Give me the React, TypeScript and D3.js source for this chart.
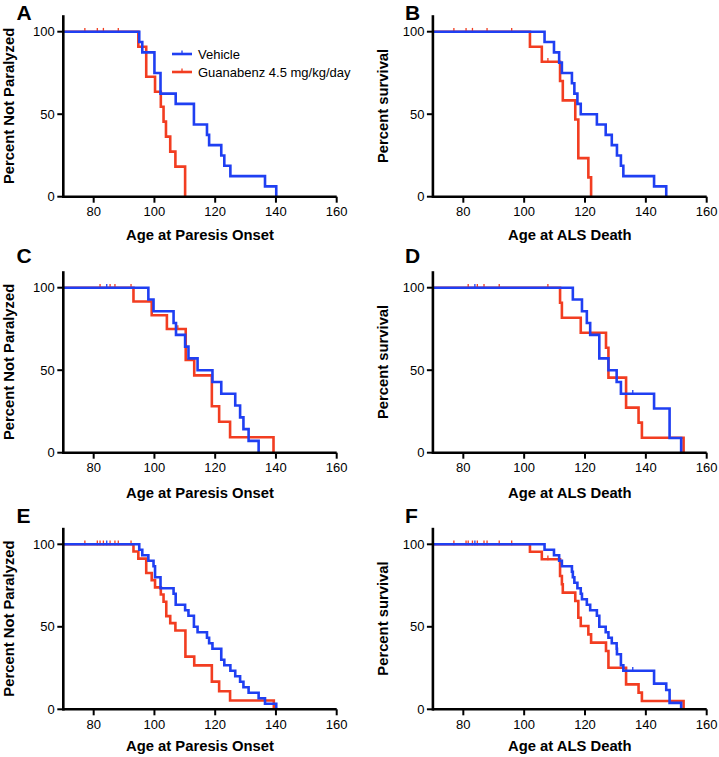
import React from "react";
import * as d3 from "d3";

const W = 719, H = 757;
const BLUE = "#1f3ff2";
const RED = "#f23d21";
const FONT = "'Liberation Sans', Arial, Helvetica, sans-serif";

const xTicks = [80, 100, 120, 140, 160];
const yTicks = [0, 50, 100];
const seriesNames = ["Vehicle", "Guanabenz 4.5 mg/kg/day"];

// A: paresis onset, cohort 1
const aVehT = [95, 96, 100, 102, 107, 113, 117.3, 118, 122, 123, 125, 136.4, 140.1];
const aVehS = [93.75, 87.5, 75, 62.5, 56.25, 43.75, 37.5, 31.25, 25, 18.75, 12.5, 6.25, 0];
const aVehC: number[] = [];
const aGuaT = [94.7, 97.3, 100.2, 102.1, 103, 103.8, 105.2, 106.9, 110.1];
const aGuaS = [90.9, 72.7, 63.6, 54.5, 45.5, 36.4, 27.3, 18.2, 0];
const aGuaC = [77.1, 81.2, 83.2, 88.1];

// B: ALS death, cohort 1
const bVehT = [106.7, 109.8, 111.5, 112.4, 115.7, 116.5, 117.5, 118.6, 123.9, 126.8, 128.8, 130.5, 131.8, 132.6, 142.7, 146.7];
const bVehS = [93.75, 87.5, 81.25, 75, 68.75, 62.5, 56.25, 50, 43.75, 37.5, 31.25, 25, 18.75, 12.5, 6.25, 0];
const bVehC: number[] = [];
const bGuaT = [101.9, 105.8, 111.8, 112.7, 116.8, 117.8, 121.1, 122];
const bGuaS = [90.9, 81.8, 70.1, 58.4, 46.8, 23.4, 11.7, 0];
const bGuaC = [76.9, 80.9, 83, 87.8, 95.9, 107.8];

// C: paresis onset, cohort 2
const cVehT = [98, 99.7, 106.3, 107.1, 110.1, 111.2, 114.2, 119.1, 122, 126.6, 128.2, 129.3, 131, 134.3];
const cVehS = [92.86, 85.71, 78.57, 71.43, 64.29, 57.14, 50, 42.86, 35.71, 28.57, 21.43, 14.29, 7.14, 0];
const cVehC = [84.3];
const cGuaT = [93.1, 99.1, 104.1, 110.3, 113.1, 118.9, 121.3, 124.9, 139.2];
const cGuaS = [91.67, 83.33, 75, 56.25, 46.88, 28.13, 18.75, 9.38, 0];
const cGuaC = [82.1, 85.4, 87, 92.3, 107.7];

// D: ALS death, cohort 2
const dVehT = [116, 119, 120.6, 121.7, 124.7, 127.7, 130.4, 131.8, 142.7, 147.8, 151.6];
const dVehS = [92.86, 85.71, 78.57, 71.43, 57.14, 50, 42.86, 35.71, 26.79, 8.93, 0];
const dVehC = [83.8, 135.7];
const dGuaT = [111.8, 112.4, 118.6, 126.9, 127.7, 133.5, 137.6, 138.7, 152.4];
const dGuaS = [90.9, 81.8, 72.7, 63.6, 45.5, 27.3, 18.2, 9.1, 0];
const dGuaC = [81.6, 84.6, 86.8, 91.8, 107.8];

// E: paresis onset, combined
const eVehT = [95, 96, 98, 99.7, 100.2, 102, 106.3, 107, 110.1, 111.2, 113, 114.2, 117.3, 118, 119.1, 122, 123, 125, 126.6, 128.2, 129.3, 131, 134.3, 136.4, 140.1];
const eVehS = [96.67, 93.33, 90, 86.67, 80, 73.33, 70, 63.33, 60, 56.67, 50, 46.67, 43.33, 40, 36.67, 30, 26.67, 23.33, 20, 16.67, 13.33, 10, 6.67, 3.33, 0];
const eVehC = [84.3];
const eGuaT = [93.1, 94.7, 97.3, 99.1, 100.2, 102.1, 103, 103.9, 105.2, 106.9, 110.2, 113.1, 118.9, 121.3, 124.9, 139.3];
const eGuaS = [95.65, 91.3, 82.6, 78.3, 73.9, 69.6, 65.2, 56.5, 52.2, 47.8, 31.9, 26.6, 16.8, 10.9, 5.3, 0];
const eGuaC = [77.1, 81.2, 82.1, 83.2, 85.4, 87, 88.1, 92.3];

// F: ALS death, combined
const fVehT = [106.7, 109.8, 111.5, 112.4, 115.7, 116, 116.5, 117.5, 118.6, 119, 120.6, 121.7, 123.9, 124.7, 126.8, 127.7, 128.8, 130.4, 130.5, 131.8, 132.6, 142.7, 146.7, 147.8, 151.6];
const fVehS = [96.67, 93.33, 90, 86.67, 83.33, 80, 76.67, 73.33, 70, 66.67, 63.33, 60, 56.67, 50, 46.67, 43.33, 40, 36.67, 33.33, 26.67, 23.33, 15.56, 11.67, 3.89, 0];
const fVehC = [83.8, 135.7];
const fGuaT = [101.9, 105.8, 111.8, 112.4, 112.7, 116.8, 117.8, 118.6, 121.1, 122, 126.9, 127.7, 133.5, 137.6, 138.7, 152.4];
const fGuaS = [95.45, 90.91, 80.8, 75.76, 70.7, 65.6, 55.5, 50.5, 45.4, 40.4, 35.3, 25.2, 15.1, 10.1, 5.0, 0];
const fGuaC = [76.9, 80.9, 81.6, 83, 84.6, 86.8, 87.8, 91.8, 95.9, 107.8];

const onsetTitle = "Age at Paresis Onset";
const deathTitle = "Age at ALS Death";
const onsetY = "Percent Not Paralyzed";
const deathY = "Percent survival";

// layout
const colRange = [[63.3, 336.7], [432.9, 706.7]];
const rowBase = [196.7, 452.7, 709.3];
const rowTitle = [240, 498, 751];
const letterBase = [20, 263, 523];
const letterX = [16.5, 405];
const yTitleX = [13.5, 387.5];

const panels = [
  { id: "A", col: 0, row: 0, xt: onsetTitle, yt: onsetY, veh: [aVehT, aVehS, aVehC], gua: [aGuaT, aGuaS, aGuaC], legend: true },
  { id: "B", col: 1, row: 0, xt: deathTitle, yt: deathY, veh: [bVehT, bVehS, bVehC], gua: [bGuaT, bGuaS, bGuaC] },
  { id: "C", col: 0, row: 1, xt: onsetTitle, yt: onsetY, veh: [cVehT, cVehS, cVehC], gua: [cGuaT, cGuaS, cGuaC] },
  { id: "D", col: 1, row: 1, xt: deathTitle, yt: deathY, veh: [dVehT, dVehS, dVehC], gua: [dGuaT, dGuaS, dGuaC] },
  { id: "E", col: 0, row: 2, xt: onsetTitle, yt: onsetY, veh: [eVehT, eVehS, eVehC], gua: [eGuaT, eGuaS, eGuaC] },
  { id: "F", col: 1, row: 2, xt: deathTitle, yt: deathY, veh: [fVehT, fVehS, fVehC], gua: [fGuaT, fGuaS, fGuaC] },
];

const survAt = (t: number[], s: number[], c: number) => {
  const i = d3.bisectRight(t, c);
  return i === 0 ? 100 : s[i - 1];
};

const Curve = ({ data, x, y, color }: any) => {
  const [t, s, c] = data;
  const pts: [number, number][] = [[70, 100], ...t.map((v: number, i: number) => [v, s[i]] as [number, number])];
  const line = d3
    .line<[number, number]>()
    .x((d) => x(d[0]))
    .y((d) => y(d[1]))
    .curve(d3.curveStepAfter);
  return (
    <g>
      <path d={line(pts) || ""} fill="none" stroke={color} strokeWidth={2.6} strokeLinejoin="miter" />
      {c.map((v: number, i: number) => {
        const yy = y(survAt(t, s, v));
        return <line key={i} x1={x(v)} x2={x(v)} y1={yy - 3.8} y2={yy + 1} stroke={color} strokeWidth={1.3} />;
      })}
    </g>
  );
};

const Panel = ({ p }: any) => {
  const [x0, x1] = colRange[p.col];
  const y0 = rowBase[p.row];
  const x = d3.scaleLinear().domain([70, 160]).range([x0, x1]);
  const y = d3.scaleLinear().domain([0, 110]).range([y0, y0 - 181.5]);
  const yMid = (y(0) + y(110)) / 2;
  return (
    <g>
      <Curve data={p.gua} x={x} y={y} color={RED} />
      <Curve data={p.veh} x={x} y={y} color={BLUE} />
      <line x1={x(70)} x2={x(160)} y1={y(0)} y2={y(0)} stroke="#000" strokeWidth={2.6} />
      <line x1={x(70)} x2={x(70)} y1={y(0) + 1.3} y2={y(110)} stroke="#000" strokeWidth={2.6} />
      {xTicks.map((v) => (
        <g key={v}>
          <line x1={x(v)} x2={x(v)} y1={y(0)} y2={y(0) + 6} stroke="#000" strokeWidth={2} />
          <text x={x(v)} y={y(0) + 19.5} textAnchor="middle" fontSize={13}>{v}</text>
        </g>
      ))}
      {yTicks.map((v) => (
        <g key={v}>
          <line x1={x(70) - 6} x2={x(70)} y1={y(v)} y2={y(v)} stroke="#000" strokeWidth={2} />
          <text x={x(70) - 8.5} y={y(v)} dy="0.36em" textAnchor="end" fontSize={13}>{v}</text>
        </g>
      ))}
      <text x={(x0 + x1) / 2} y={rowTitle[p.row]} textAnchor="middle" fontSize={14.8} fontWeight="bold">{p.xt}</text>
      <text
        transform={`translate(${yTitleX[p.col]},${yMid}) rotate(-90)`}
        textAnchor="middle"
        fontSize={14.8}
        fontWeight="bold"
      >
        {p.yt}
      </text>
      <text x={letterX[p.col]} y={letterBase[p.row]} fontSize={21} fontWeight="bold">{p.id}</text>
      {p.legend && (
        <g>
          {[BLUE, RED].map((col, i) => (
            <g key={i} transform={`translate(172,${54 + i * 18})`}>
              <line x1={0} x2={20} y1={0} y2={0} stroke={col} strokeWidth={2.6} />
              <line x1={10} x2={10} y1={-3.5} y2={1} stroke={col} strokeWidth={1.3} />
              <text x={26} y={0} dy="0.36em" fontSize={13}>{seriesNames[i]}</text>
            </g>
          ))}
        </g>
      )}
    </g>
  );
};

const App = () => {
  return (
    <svg
      width={W}
      height={H}
      style={{ position: "absolute", left: 0, top: 0, background: "#fff" }}
      fontFamily={FONT}
    >
      <rect width={W} height={H} fill="#fff" />
      {panels.map((p) => (
        <Panel key={p.id} p={p} />
      ))}
    </svg>
  );
};

export default App;
